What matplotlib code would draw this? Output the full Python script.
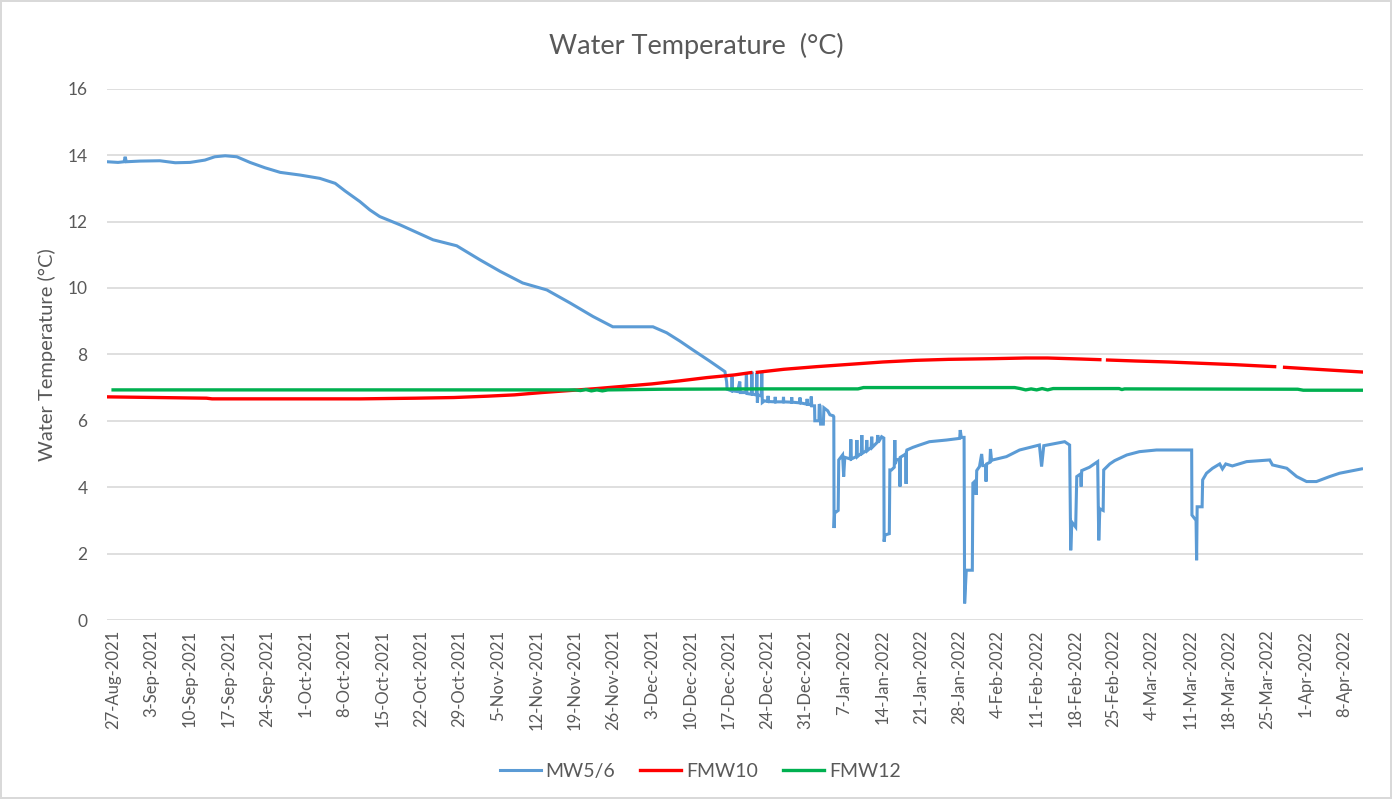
import numpy as np
import pandas as pd
import matplotlib
matplotlib.use('Agg')
import matplotlib.pyplot as plt

# x values are days since 27-Aug-2021
start_date = pd.Timestamp('2021-08-27')

# MW5/6
mw_day = [-1.1, 0.9, 2.0, 2.2, 2.4, 4.9, 8.5, 11.3, 14.0, 16.7, 18.5, 20.4, 22.5, 24.9,
          27.6, 30.4, 34.0, 37.6, 40.4, 42.2, 44.9, 46.7, 48.5, 52.2, 58.2, 62.5, 66.7,
          70.4, 74.5, 78.9, 83.1, 87.3, 90.9, 98.2, 100.7, 103.1, 105.5, 108.5, 111.3,
          111.6, 111.7,
          112.5, 112.6, 112.7, 113.6, 114.0, 114.1, 115.1, 115.2, 115.3, 116.1, 116.2,
          116.3, 117.0, 117.1, 117.2, 117.3, 117.9, 118.0, 118.1, 118.5,
          119.1, 119.15, 119.2, 120.4, 120.45, 120.5, 121.9, 121.95, 122.0, 123.4,
          123.45, 123.5, 124.9, 124.95, 125.0, 126.2, 126.25, 126.3,
          126.9, 127.0, 127.1, 127.6, 127.65, 128.4, 128.45, 128.6, 128.7, 129.2,
          129.3, 130.0, 130.4, 131.0,
          131.1, 131.15, 131.25, 131.9, 132.0, 132.7, 132.9, 133.1,
          134.1, 134.2, 134.3, 135.2, 135.3, 135.4, 136.1, 136.2, 136.3, 137.0, 137.1,
          137.2, 137.9, 138.0, 138.1, 139.0, 139.1, 139.2,
          139.8, 140.2, 140.25, 140.4, 141.2, 141.3,
          141.6, 142.1, 142.2, 142.3, 142.5, 143.1, 143.15, 143.2, 144.2, 144.25,
          144.3, 144.4, 145.5, 146.7, 148.5, 151.6, 154.0, 154.1, 154.3, 154.8,
          154.9, 155.2, 156.3, 156.4, 156.9, 157.0, 157.1, 157.6, 158.0, 158.2,
          158.7, 158.8, 158.9, 159.5, 159.6, 159.8, 160.0, 162.5, 164.9, 168.5,
          168.9, 169.3, 173.1, 174.0, 174.2, 174.4, 175.1, 175.3, 176.0, 176.1,
          176.2, 177.6, 179.1, 179.3, 179.5, 180.1, 180.2, 181.3, 182.2, 184.4,
          186.7, 189.8, 196.2, 196.25, 197.0, 197.1, 197.2, 198.1, 198.2, 198.9,
          200.0, 201.3, 201.8, 202.4, 203.6, 206.2, 210.4, 210.9, 213.5, 215.3,
          217.1, 218.9, 221.3, 223.1, 227.1]
mw_temp = [13.80, 13.78, 13.80, 13.95, 13.80, 13.82, 13.83, 13.77, 13.78, 13.85, 13.95,
           13.98, 13.95, 13.78, 13.62, 13.48, 13.40, 13.30, 13.15, 12.92, 12.60, 12.35,
           12.15, 11.90, 11.45, 11.27, 10.85, 10.50, 10.15, 9.94, 9.55, 9.14, 8.83,
           8.83, 8.65, 8.40, 8.13, 7.80, 7.48, 7.18, 6.95,
           6.90, 7.33, 6.90, 6.88, 7.18, 6.85, 6.85, 7.44, 6.82, 6.80, 7.48,
           6.80, 6.78, 7.44, 6.55, 6.78, 6.75, 7.48, 6.55, 6.60,
           6.58, 6.75, 6.58, 6.57, 6.72, 6.57, 6.57, 6.72, 6.57, 6.56,
           6.71, 6.56, 6.54, 6.70, 6.54, 6.50, 6.66, 6.50,
           6.48, 6.73, 6.45, 6.45, 6.00, 6.00, 6.50, 6.45, 5.90, 5.90,
           6.39, 6.30, 6.18, 6.15,
           6.12, 2.77, 3.22, 3.30, 4.82, 4.97, 4.32, 4.90,
           4.85, 5.44, 4.85, 4.92, 5.42, 4.92, 5.02, 5.57, 5.02, 5.10, 5.42,
           5.10, 5.20, 5.52, 5.20, 5.35, 5.57, 5.35,
           5.52, 5.48, 2.36, 2.56, 2.60, 4.52,
           4.52, 4.60, 5.42, 4.70, 4.82, 4.85, 4.02, 4.90, 5.00, 4.10,
           5.05, 5.12, 5.20, 5.27, 5.37, 5.42, 5.47, 5.72, 5.50, 5.50,
           0.50, 1.50, 1.50, 4.12, 4.20, 3.77, 4.50, 4.62, 5.00, 4.65,
           4.65, 4.17, 4.70, 4.75, 5.15, 4.80, 4.82, 4.92, 5.12, 5.27,
           4.62, 5.25, 5.37, 5.27, 2.10, 2.95, 2.80, 4.32, 4.40, 4.02,
           4.50, 4.60, 4.77, 2.40, 3.35, 3.30, 4.52, 4.70, 4.80, 4.97,
           5.07, 5.12, 5.12, 3.16, 3.00, 1.80, 3.41, 3.41, 4.22, 4.42,
           4.57, 4.70, 4.55, 4.70, 4.64, 4.77, 4.82, 4.67, 4.57, 4.32,
           4.17, 4.17, 4.32, 4.42, 4.55]

# FMW10 (NaN = missing readings)
fmw10_day = [-1.0, 8, 17, 18, 45, 55, 62, 68, 73, 78, 83, 88, 93, 98, 103, 108, 113,
             116.0, 116.6, 117.2, 122, 128, 134, 140, 146, 152, 160, 166, 170, 176,
             179.5, 180.2, 180.9, 186, 192, 198, 204, 210, 211.3, 212.2, 213.1, 218,
             223, 227.1]
fmw10_temp = [6.72, 6.70, 6.68, 6.66, 6.66, 6.68, 6.70, 6.74, 6.78, 6.85, 6.91, 6.97,
              7.04, 7.11, 7.20, 7.30, 7.38, 7.45, np.nan, 7.46, 7.55, 7.63, 7.70,
              7.77, 7.82, 7.85, 7.87, 7.89, 7.89, 7.86, 7.84, np.nan, 7.83, 7.80,
              7.77, 7.73, 7.69, 7.64, 7.63, np.nan, 7.61, 7.56, 7.51, 7.47]

# FMW12
fmw12_day = [0, 84, 85, 86, 87, 88, 89, 90, 100, 118, 135.5, 136.5, 164, 165, 166, 167,
             168, 169, 170, 171, 183, 183.5, 184, 215.5, 216.5, 227.1]
fmw12_temp = [6.93, 6.93, 6.91, 6.94, 6.90, 6.93, 6.90, 6.93, 6.95, 6.96, 6.96, 7.00,
              7.00, 6.97, 6.93, 6.96, 6.93, 6.97, 6.93, 6.97, 6.97, 6.94, 6.96, 6.95,
              6.92, 6.92]

tick_days = list(range(0, 225, 7))
tick_labels = []
for d in tick_days:
    t = start_date + pd.Timedelta(days=d)
    tick_labels.append(f"{t.day}-{t.strftime('%b-%Y')}")

text_col = '#595959'
plt.rcParams['font.family'] = ['Lato', 'DejaVu Sans']

fig = plt.figure(figsize=(13.92, 7.99), dpi=100)
fig.patch.set_edgecolor('#D9D9D9')
fig.patch.set_linewidth(1.5)
ax = fig.add_axes([0.0769, 0.224, 0.902, 0.665])

ax.plot(mw_day, mw_temp, color='#5B9BD5', lw=2.2, label='MW5/6', solid_joinstyle='miter')
ax.plot(fmw10_day, fmw10_temp, color='#FF0000', lw=2.4, label='FMW10')
ax.plot(fmw12_day, fmw12_temp, color='#00B050', lw=2.4, label='FMW12')

ax.set_xlim(-1.1, 227.3)
ax.set_ylim(0, 16)
ax.set_yticks(range(0, 17, 2))
ax.set_xticks(tick_days)
ax.set_xticklabels(tick_labels, rotation=90)
ax.grid(axis='y', color='#D9D9D9', lw=1.2)
ax.set_axisbelow(True)
for s in ax.spines.values():
    s.set_visible(False)
ax.tick_params(axis='both', length=0, colors=text_col, labelsize=12)
ax.tick_params(axis='y', pad=14, labelsize=12.5)
ax.tick_params(axis='x', pad=7)

ax.set_ylabel('Water Temperature (°C)', color=text_col, fontsize=14.5, labelpad=8)
fig.text(0.5, 0.943, 'Water Temperature  (°C)', ha='center', va='center',
         color=text_col, fontsize=19.5)

leg = fig.legend(loc='center', bbox_to_anchor=(0.503, 0.035), ncol=3, frameon=False,
                 fontsize=14, handlelength=2.1, handletextpad=0.25, columnspacing=1.3)
for t in leg.get_texts():
    t.set_color(text_col)

fig.savefig('out.png', dpi=100)
